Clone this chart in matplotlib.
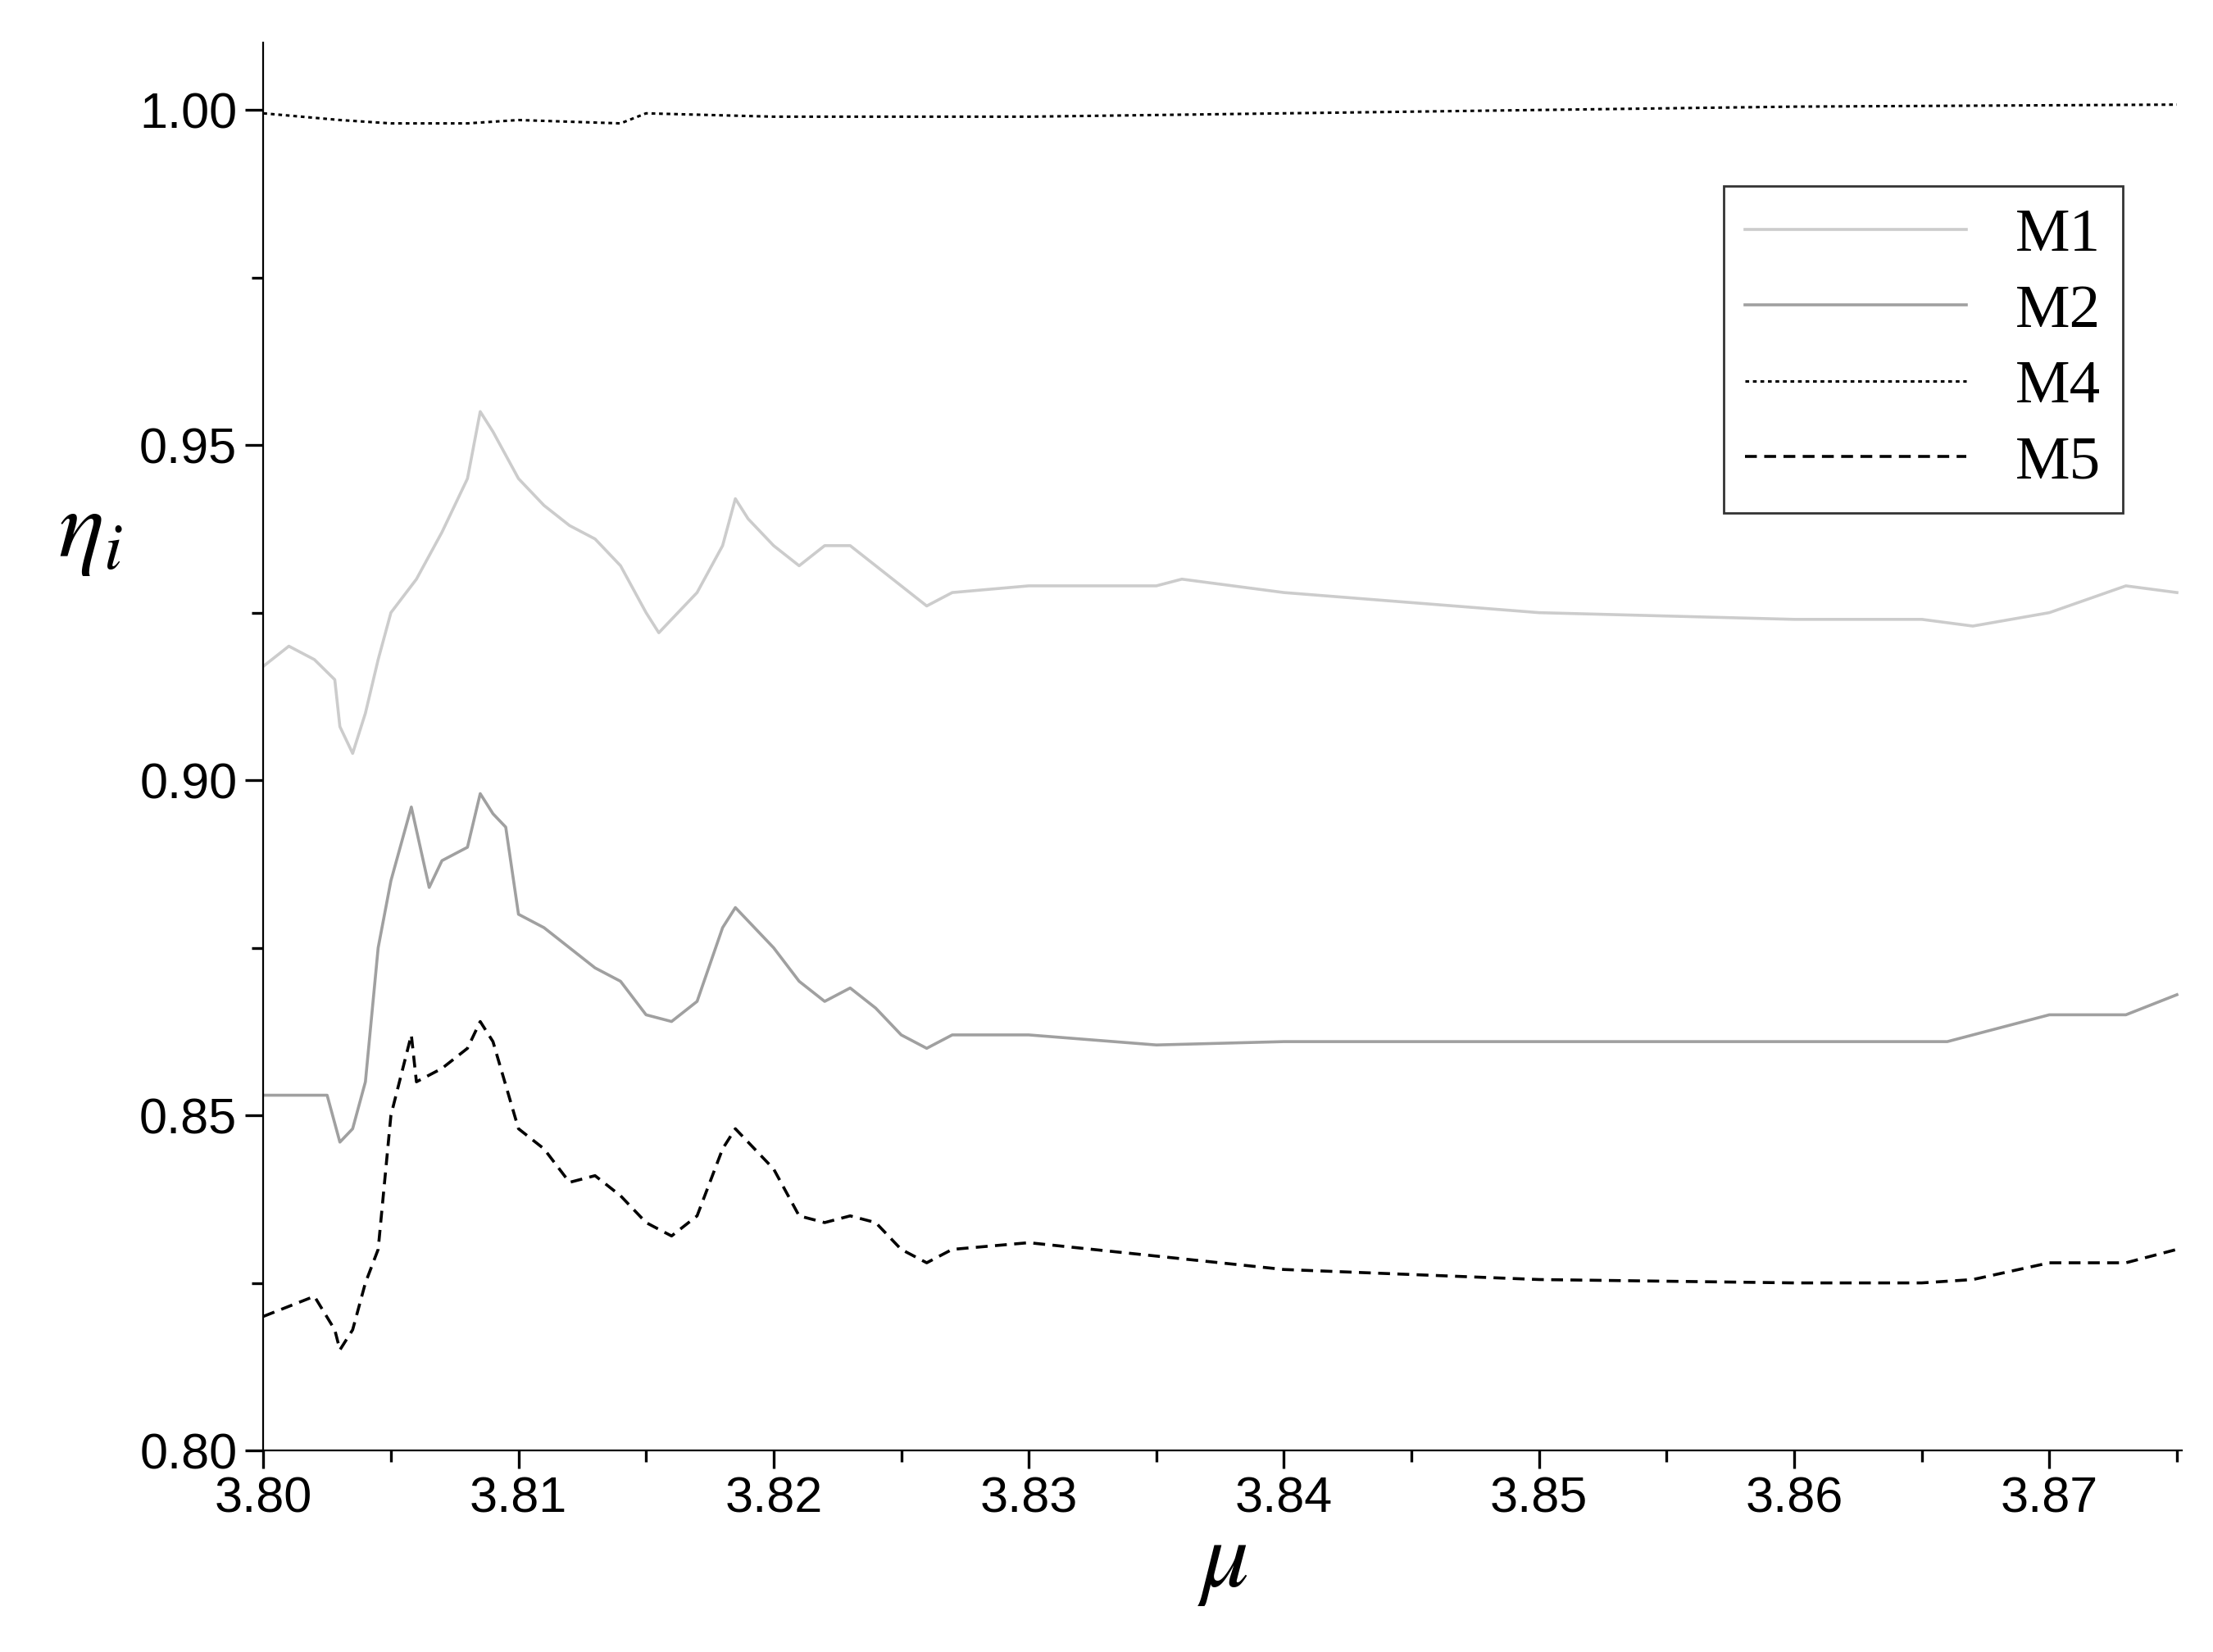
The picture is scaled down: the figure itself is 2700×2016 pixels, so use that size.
import matplotlib
matplotlib.use("Agg")
import matplotlib.pyplot as plt
from matplotlib.ticker import MultipleLocator

m1_x = [3.800,3.801,3.802,3.8028,3.803,3.8035,3.804,3.8045,3.805,3.806,3.807,3.808,3.8085,3.809,3.810,3.811,3.812,3.813,3.814,3.815,3.8155,3.816,3.817,3.818,3.8185,3.819,3.820,3.821,3.822,3.823,3.824,3.825,3.826,3.827,3.830,3.835,3.836,3.840,3.850,3.860,3.865,3.867,3.870,3.873,3.875]
m1_y = [0.917,0.920,0.918,0.915,0.908,0.904,0.910,0.918,0.925,0.930,0.937,0.945,0.955,0.952,0.945,0.941,0.938,0.936,0.932,0.925,0.922,0.924,0.928,0.935,0.942,0.939,0.935,0.932,0.935,0.935,0.932,0.929,0.926,0.928,0.929,0.929,0.930,0.928,0.925,0.924,0.924,0.923,0.925,0.929,0.928]

m2_x = [3.800,3.8025,3.803,3.8035,3.804,3.8045,3.805,3.8058,3.8065,3.807,3.808,3.8085,3.809,3.8095,3.810,3.811,3.812,3.813,3.814,3.815,3.816,3.817,3.818,3.8185,3.819,3.820,3.821,3.822,3.823,3.824,3.825,3.826,3.827,3.830,3.835,3.840,3.860,3.866,3.868,3.870,3.873,3.875]
m2_y = [0.853,0.853,0.846,0.848,0.855,0.875,0.885,0.896,0.884,0.888,0.890,0.898,0.895,0.893,0.880,0.878,0.875,0.872,0.870,0.865,0.864,0.867,0.878,0.881,0.879,0.875,0.870,0.867,0.869,0.866,0.862,0.860,0.862,0.862,0.8605,0.861,0.861,0.861,0.863,0.865,0.865,0.868]

m4_x = [3.800,3.803,3.805,3.808,3.810,3.814,3.815,3.820,3.830,3.840,3.850,3.860,3.875]
m4_y = [0.9995,0.9985,0.998,0.998,0.9985,0.998,0.9995,0.999,0.999,0.9995,1.000,1.0005,1.0008]

m5_x = [3.800,3.802,3.8028,3.803,3.8035,3.804,3.8045,3.805,3.8058,3.806,3.807,3.808,3.8085,3.809,3.810,3.811,3.812,3.813,3.814,3.815,3.816,3.817,3.818,3.8185,3.819,3.820,3.821,3.822,3.823,3.824,3.825,3.826,3.827,3.830,3.835,3.840,3.850,3.860,3.865,3.867,3.870,3.873,3.875]
m5_y = [0.820,0.823,0.818,0.815,0.818,0.825,0.830,0.850,0.862,0.855,0.857,0.860,0.864,0.861,0.848,0.845,0.840,0.841,0.838,0.834,0.832,0.835,0.845,0.848,0.846,0.842,0.835,0.834,0.835,0.834,0.830,0.828,0.830,0.831,0.829,0.827,0.8255,0.825,0.825,0.8255,0.828,0.828,0.830]

plt.rcParams['font.family'] = ['Liberation Sans', 'DejaVu Sans']
plt.rcParams['mathtext.fontset'] = 'stix'
fig = plt.figure(figsize=(13.5, 10.08), dpi=200)
ax = fig.add_axes([0.119, 0.122, 0.867, 0.852])
ax.plot(m1_x, m1_y, color='#cccccc', lw=1.3, label='M1')
ax.plot(m2_x, m2_y, color='#a0a0a0', lw=1.3, label='M2')
ax.plot(m4_x, m4_y, color='black', lw=1.1, ls=(0, (1.5, 1.5)), label='M4')
ax.plot(m5_x, m5_y, color='black', lw=1.3, ls=(0, (4, 2.5)), label='M5')
ax.set_xlim(3.80, 3.8752)
ax.set_ylim(0.80, 1.010)
ax.xaxis.set_major_locator(MultipleLocator(0.01))
ax.xaxis.set_minor_locator(MultipleLocator(0.005))
ax.yaxis.set_major_locator(MultipleLocator(0.05))
ax.yaxis.set_minor_locator(MultipleLocator(0.025))
ax.xaxis.set_major_formatter(matplotlib.ticker.FormatStrFormatter('%.2f'))
ax.yaxis.set_major_formatter(matplotlib.ticker.FormatStrFormatter('%.2f'))
ax.spines['top'].set_visible(False)
ax.spines['right'].set_visible(False)
ax.tick_params(which='major', direction='out', length=8, width=1.2, labelsize=22)
ax.tick_params(which='minor', direction='out', length=5, width=1.2)
ax.set_xlabel(r'$\mu$', fontsize=42, labelpad=-2)
ax.set_ylabel(r'$\eta_i$', fontsize=42, rotation=0, labelpad=20)
ax.yaxis.set_label_coords(-0.09, 0.62)
leg = ax.legend(loc='upper right', bbox_to_anchor=(0.985, 0.92), prop={'family': 'Liberation Serif', 'size': 27},
                frameon=True, fancybox=False, edgecolor='black', handlelength=3.6, labelspacing=0.32, borderpad=0.35)
leg.get_frame().set_linewidth(1.0)
fig.savefig('out.png', dpi=200)
